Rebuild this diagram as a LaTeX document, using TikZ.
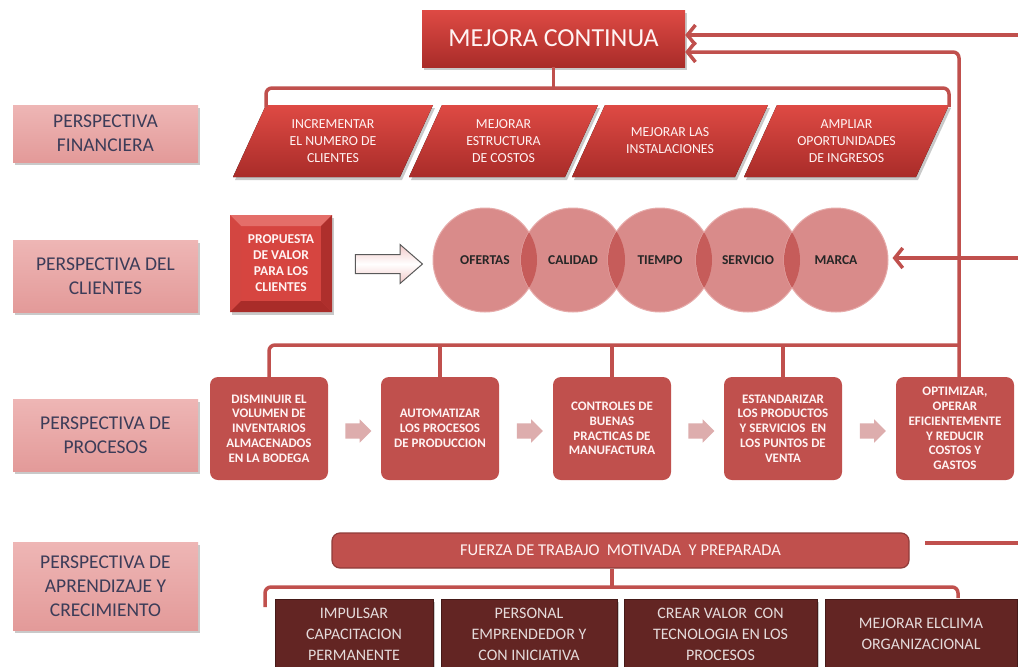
\documentclass[tikz,border=0pt]{standalone}
\usepackage{fontspec}
\setmainfont{Carlito}
\usetikzlibrary{arrows.meta,shapes.arrows,shadows,calc}

\definecolor{accent}{HTML}{C0504D}
\definecolor{redtop}{HTML}{DE4A44}
\definecolor{redbot}{HTML}{A92C29}
\definecolor{pinktop}{HTML}{EEB6B5}
\definecolor{pinkbox}{HTML}{E39A99}
\definecolor{labeltext}{HTML}{3C3C58}
\definecolor{circfill}{HTML}{D98B8A}
\definecolor{circedge}{HTML}{E6AAA9}
\definecolor{lens}{HTML}{C65C5A}
\definecolor{darkbox}{HTML}{632523}
\definecolor{lighttext}{HTML}{FFF3F3}
\definecolor{steparrow}{HTML}{DDADAD}

\tikzset{
  conn/.style={draw=accent, line width=3.5pt},
  tip/.style={-{Straight Barb[length=8pt,width=20pt]}},
  softshadow/.style={drop shadow={shadow xshift=2pt, shadow yshift=-3pt, opacity=.35, fill=black!60}},
  persp/.style={rectangle, minimum width=185pt, align=center, text=labeltext,
    top color=pinktop, bottom color=pinkbox, softshadow,
    font=\fontsize{19.5}{24}\selectfont},
  redbox/.style={rectangle, align=center, text=lighttext,
    top color=redtop, bottom color=redbot, softshadow},
  fintext/.style={align=center, text=lighttext, inner sep=0pt,
    font=\fontsize{13.8}{17}\selectfont},
  procbox/.style={rectangle, rounded corners=8pt, fill=accent, align=center,
    text=lighttext, minimum width=118pt, minimum height=103pt, inner sep=2pt,
    font=\bfseries\fontsize{13}{14.8}\selectfont},
  stepto/.style={single arrow, fill=steparrow, draw=none, inner xsep=0pt,
    inner ysep=7.5pt, minimum height=26pt, single arrow head extend=4pt},
  circ/.style={circle, fill=circfill, draw=circedge, line width=1pt,
    minimum size=104pt, inner sep=0pt},
  circtext/.style={text=black!85, font=\bfseries\fontsize{13.5}{16}\selectfont},
  learnbox/.style={rectangle, fill=darkbox, draw=darkbox!70!black, line width=.8pt,
    align=center, text=lighttext!90!black, minimum height=70pt, softshadow,
    font=\fontsize{16}{21}\selectfont},
}

\begin{document}
\begin{tikzpicture}[x=1pt,y=-1pt]
\clip (0,0) rectangle (1018,667);
\fill[white] (0,0) rectangle (1018,667);

% perspective labels on the left
\node[persp, minimum height=57pt] (pfin) at (105.5,133.5) {PERSPECTIVA\\FINANCIERA};
\node[persp, minimum height=72pt] (pcli) at (105.5,276) {PERSPECTIVA DEL\\CLIENTES};
\node[persp, minimum height=72pt] (ppro) at (105.5,435) {PERSPECTIVA DE\\PROCESOS};
\node[persp, minimum height=88pt] (papr) at (105.5,586) {PERSPECTIVA DE\\APRENDIZAJE Y\\CRECIMIENTO};

% top goal
\node[redbox, minimum width=263pt, minimum height=57pt,
      font=\fontsize{26}{30}\selectfont] (mejora) at (553.5,38.5) {MEJORA CONTINUA};

% financial objectives (parallelograms)
\foreach \n/\l/\r/\txt in {
  f1/266/433/{INCREMENTAR\\EL NUMERO DE\\CLIENTES},
  f2/442/598/{MEJORAR\\ESTRUCTURA\\DE COSTOS},
  f3/605/768/{MEJORAR LAS\\INSTALACIONES},
  f4/777/949/{AMPLIAR\\OPORTUNIDADES\\DE INGRESOS}} {
  \fill[black!60, opacity=.35] (\l+2,108) -- (\r+2,108) -- (\r-31,180) -- (\l-31,180) -- cycle;
  \fill[top color=redtop, bottom color=redbot] (\l,105) -- (\r,105) -- (\r-33,177) -- (\l-33,177) -- cycle;
  \node[fintext] (\n) at ({(\l+\r)/2-16.5},141) {\txt};
}
\coordinate (fleft) at (266,107);
\coordinate (fright) at (949,107);
\coordinate (fbar) at (553.5,88);
\draw[conn, rounded corners=6pt] (fleft) |- (fbar) -| (fright);
\draw[conn] (mejora.south) -- (fbar);

% customer value proposition
\node[rectangle, minimum width=102pt, minimum height=97pt, fill=redtop!85!redbot,
      softshadow, align=center, text=lighttext,
      font=\bfseries\fontsize{13.5}{16}\selectfont,
      path picture={
        \coordinate (nw) at (path picture bounding box.north west);
        \coordinate (ne) at (path picture bounding box.north east);
        \coordinate (sw) at (path picture bounding box.south west);
        \coordinate (se) at (path picture bounding box.south east);
        \fill[redtop!80!white] (nw) -- (ne) -- ([shift={(-11pt,-11pt)}]ne) -- ([shift={(11pt,-11pt)}]nw) -- cycle;
        \fill[redtop!95!black] (nw) -- (sw) -- ([shift={(11pt,11pt)}]sw) -- ([shift={(11pt,-11pt)}]nw) -- cycle;
        \fill[redbot!90!redtop] (ne) -- (se) -- ([shift={(-11pt,11pt)}]se) -- ([shift={(-11pt,-11pt)}]ne) -- cycle;
        \fill[redbot] (sw) -- (se) -- ([shift={(-11pt,11pt)}]se) -- ([shift={(11pt,11pt)}]sw) -- cycle;
      }] (prop) at (281,263.5) {PROPUESTA\\DE VALOR\\PARA LOS\\CLIENTES};

\node[single arrow, minimum height=67pt, inner xsep=0pt, inner ysep=9pt,
      single arrow head extend=10pt, single arrow tip angle=82,
      top color=pinktop!75!white, bottom color=pinktop!75!white, middle color=white,
      draw=black!65, line width=1pt] (bigarrow) at (383.5,264) {};

% value attributes (overlapping circles)
\foreach \i/\x in {1/485,2/573,3/660,4/748,5/836}
  \node[circ] (c\i) at (\x,260) {};
\foreach \i/\j in {1/2,2/3,3/4,4/5} {
  \begin{scope}
    \clip (c\i.center) circle (52pt);
    \fill[lens] (c\j.center) circle (52pt);
  \end{scope}
}
\node[circtext] (t1) at (c1) {OFERTAS};
\node[circtext] (t2) at (c2) {CALIDAD};
\node[circtext] (t3) at (c3) {TIEMPO};
\node[circtext] (t4) at (c4) {SERVICIO};
\node[circtext] (t5) at (c5) {MARCA};

% internal processes
\node[procbox] (p1) at (269,428.5) {DISMINUIR EL\\VOLUMEN DE\\INVENTARIOS\\ALMACENADOS\\EN LA BODEGA};
\node[procbox] (p2) at (440,428.5) {AUTOMATIZAR\\LOS PROCESOS\\DE PRODUCCION};
\node[procbox] (p3) at (612,428.5) {CONTROLES DE\\BUENAS\\PRACTICAS DE\\MANUFACTURA};
\node[procbox] (p4) at (783,428.5) {ESTANDARIZAR\\LOS PRODUCTOS\\Y SERVICIOS~ EN\\LOS PUNTOS DE\\VENTA};
\node[procbox] (p5) at (955,428.5) {OPTIMIZAR,\\OPERAR\\EFICIENTEMENTE\\Y REDUCIR\\COSTOS Y\\GASTOS};

\node[stepto] (s1) at ($(p1.east)!.5!(p2.west)+(0,2.5)$) {};
\node[stepto] (s2) at ($(p2.east)!.5!(p3.west)+(0,2.5)$) {};
\node[stepto] (s3) at ($(p3.east)!.5!(p4.west)+(0,2.5)$) {};
\node[stepto] (s4) at ($(p4.east)!.5!(p5.west)+(0,2.5)$) {};

\coordinate (pbar) at (0,345);
\coordinate (p5up) at ([xshift=4pt]p5.north);
\draw[conn, rounded corners=6pt] (p1.north) |- (p5up |- pbar);
\foreach \k in {2,3,4}
  \draw[conn] (p\k.north) -- (p\k.north |- pbar);

% feedback loops into the goal and the customer view
\draw[conn, rounded corners=6pt, tip] (p5up) |- ([yshift=-13.5pt]mejora.east);
\coordinate (edge1) at (1018,35);
\draw[conn, tip] (edge1) -- (edge1 -| mejora.east);
\coordinate (edge2) at (1018,258);
\draw[conn, tip, shorten >=4pt] (edge2) -- (edge2 -| c5.east);

% learning and growth
\node[rectangle, rounded corners=8pt, fill=accent, draw=accent!75!black, line width=1.2pt,
      minimum width=577pt, minimum height=35pt, text=lighttext,
      font=\fontsize{16.5}{19}\selectfont] (fz) at (620.5,550.5)
      {FUERZA DE TRABAJO~ MOTIVADA~ Y PREPARADA};
\coordinate (fzr) at (925,543);
\coordinate (edge3) at (1018,543);
\draw[conn] (fzr) -- (edge3);

\coordinate (lleft) at (265,607);
\coordinate (lright) at (958,598);
\coordinate (lbar) at (612,587);
\draw[conn, rounded corners=6pt] (lleft) |- (lbar) -| (lright);
\draw[conn] (fz.south -| lbar) -- (lbar);

\node[learnbox, minimum width=158pt] (l1) at (354,634) {IMPULSAR\\CAPACITACION\\PERMANENTE};
\node[learnbox, minimum width=176pt] (l2) at (529,634) {PERSONAL\\EMPRENDEDOR Y\\CON INICIATIVA};
\node[learnbox, minimum width=193pt] (l3) at (720.5,634) {CREAR VALOR~ CON\\TECNOLOGIA EN LOS\\PROCESOS};
\node[learnbox, minimum width=192pt] (l4) at (921,634) {MEJORAR ELCLIMA\\ORGANIZACIONAL};
\end{tikzpicture}
\end{document}
